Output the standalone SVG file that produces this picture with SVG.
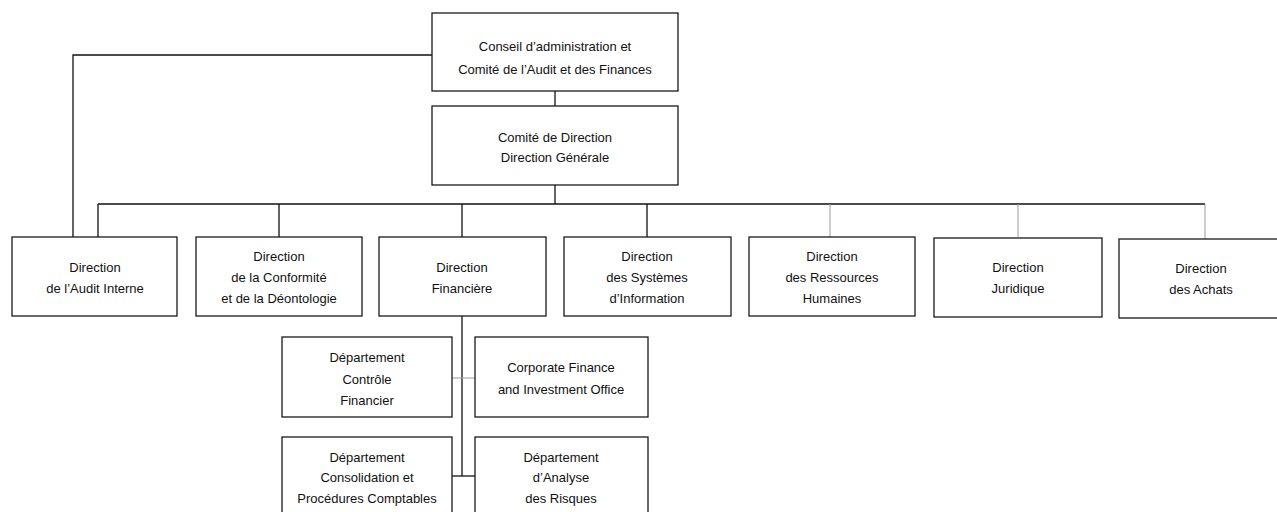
<svg xmlns="http://www.w3.org/2000/svg" width="1277" height="512" viewBox="0 0 1277 512">
<style>
.box{fill:#fff;stroke:#1a1a1a;stroke-width:1.3}
.ln{fill:none;stroke:#111;stroke-width:1.3}
.lf{fill:none;stroke:#9a9a9a;stroke-width:1}
text{font-family:"Liberation Sans",Arial,sans-serif;font-size:13px;fill:#111;text-anchor:middle;dominant-baseline:central}
</style>
<rect width="1277" height="512" fill="#fff"/>
<g id="connectors">
<path class="ln" d="M432 55H73V237"/>
<path class="ln" d="M555 91V106"/>
<path class="ln" d="M555 185V204"/>
<path class="ln" d="M98 204H1205"/>
<path class="ln" d="M98 204V237M279 204V237M462 204V237M647 204V237"/>
<path class="lf" d="M830 204V237M1018 204V237M1205 204V239"/>
<path class="ln" d="M462 316V476"/>
<path class="lf" d="M452 378H475"/>
<path class="ln" d="M452 476H475"/>
</g>
<g id="conseil">
<rect class="box" x="432" y="13" width="246" height="78"/>
<text x="555" y="46">Conseil d’administration et</text>
<text x="555" y="69">Comité de l’Audit et des Finances</text>
</g>
<g id="comite">
<rect class="box" x="432" y="106" width="246" height="79"/>
<text x="555" y="137">Comité de Direction</text>
<text x="555" y="157">Direction Générale</text>
</g>
<g id="audit">
<rect class="box" x="12" y="237" width="165" height="79"/>
<text x="95" y="267">Direction</text>
<text x="95" y="288">de l’Audit Interne</text>
</g>
<g id="conformite">
<rect class="box" x="196" y="237" width="166" height="79"/>
<text x="279" y="256">Direction</text>
<text x="279" y="277">de la Conformité</text>
<text x="279" y="298">et de la Déontologie</text>
</g>
<g id="financiere">
<rect class="box" x="379" y="237" width="167" height="79"/>
<text x="462" y="267">Direction</text>
<text x="462" y="288">Financière</text>
</g>
<g id="si">
<rect class="box" x="564" y="237" width="167" height="79"/>
<text x="647" y="256">Direction</text>
<text x="647" y="277">des Systèmes</text>
<text x="647" y="298">d’Information</text>
</g>
<g id="rh">
<rect class="box" x="749" y="237" width="166" height="79"/>
<text x="832" y="256">Direction</text>
<text x="832" y="277">des Ressources</text>
<text x="832" y="298">Humaines</text>
</g>
<g id="juridique">
<rect class="box" x="934" y="238" width="168" height="79"/>
<text x="1018" y="267">Direction</text>
<text x="1018" y="288">Juridique</text>
</g>
<g id="achats">
<rect class="box" x="1119" y="239" width="170" height="79"/>
<text x="1201" y="268">Direction</text>
<text x="1201" y="289">des Achats</text>
</g>
<g id="controle">
<rect class="box" x="282" y="337" width="170" height="80"/>
<text x="367" y="357">Département</text>
<text x="367" y="379">Contrôle</text>
<text x="367" y="400">Financier</text>
</g>
<g id="corporate">
<rect class="box" x="475" y="337" width="173" height="80"/>
<text x="561" y="367">Corporate Finance</text>
<text x="561" y="389">and Investment Office</text>
</g>
<g id="consolidation">
<rect class="box" x="282" y="437" width="170" height="85"/>
<text x="367" y="457">Département</text>
<text x="367" y="477">Consolidation et</text>
<text x="367" y="498">Procédures Comptables</text>
</g>
<g id="risques">
<rect class="box" x="475" y="437" width="173" height="85"/>
<text x="561" y="457">Département</text>
<text x="561" y="477">d’Analyse</text>
<text x="561" y="498">des Risques</text>
</g>
</svg>
